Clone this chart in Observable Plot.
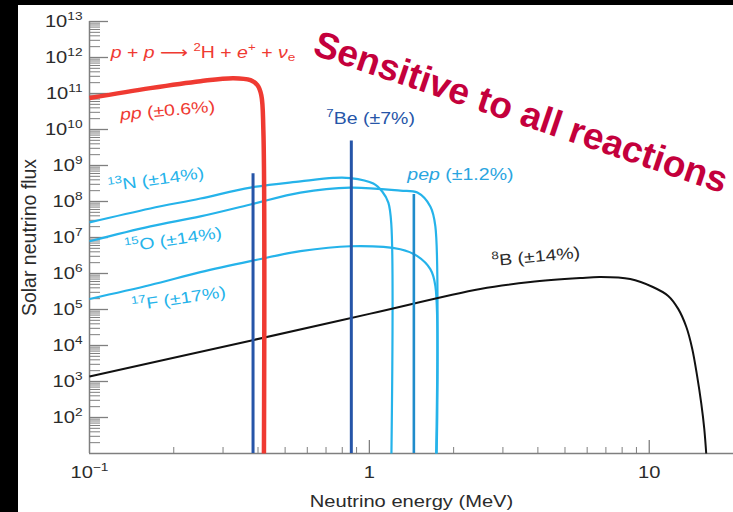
<!DOCTYPE html>
<html><head><meta charset="utf-8">
<script src="https://cdn.jsdelivr.net/npm/d3@7"></script>
<script src="https://cdn.jsdelivr.net/npm/@observablehq/plot@0.6"></script>
<style>
html,body{margin:0;padding:0;background:#000;width:733px;height:512px;overflow:hidden}
#panel{position:absolute;left:18px;top:5px;width:715px;height:507px;background:#fff}
#panel svg{display:block}
</style></head><body><div id="panel"></div>
<script>
// ---------- data (energy in MeV, flux in solar neutrino flux units) ----------
const ppE     = [0.1, 0.165, 0.249, 0.327, 0.376, 0.398, 0.411, 0.418, 0.42];
const ppFlux  = [7.46e10, 1.41e11, 2.20e11, 2.66e11, 2.34e11, 1.71e11, 9.0e10, 9.8e9, 10];

const n13E    = [0.1, 0.165, 0.249, 0.376, 0.567, 0.743, 0.855, 1.033, 1.113, 1.169, 1.198, 1.199];
const n13Flux = [2.63e7, 6.41e7, 1.21e8, 2.44e8, 3.63e8, 4.52e8, 4.47e8, 3.16e8, 1.86e8, 9.3e7, 2.3e7, 10];

const o15E    = [0.1, 0.165, 0.249, 0.376, 0.567, 0.855, 1.29, 1.484, 1.651, 1.721, 1.732];
const o15Flux = [7.85e6, 2.04e7, 3.85e7, 8.26e7, 1.77e8, 2.44e8, 2.01e8, 1.77e8, 7.3e7, 2.04e7, 10];

const f17E    = [0.1, 0.165, 0.249, 0.376, 0.567, 0.855, 1.29, 1.484, 1.651, 1.721, 1.74];
const f17Flux = [1.96e5, 4.79e5, 1.09e6, 2.20e6, 4.16e6, 5.71e6, 4.72e6, 3.03e6, 1.32e6, 4.5e5, 10];

const b8E     = [0.1, 0.376, 1.0, 2.49, 3.76, 5.67, 6.68, 8.55, 10.3, 11.69, 12.69, 13.56, 14.24, 14.84, 15.34, 15.72, 15.98];
const b8Flux  = [1.37e3, 1.36e4, 7.55e4, 3.71e5, 5.78e5, 7.46e5, 7.96e5, 7.0e5, 4.21e5, 2.38e5, 1.04e5, 3.31e4, 8.17e3, 1.37e3, 247, 50, 10];

// mono-energetic lines
const be7LineE    = [0.384, 0.862];
const be7LineFlux = [5.9e8, 4.8e9];
const pepLineE    = [1.442];
const pepLineFlux = [1.56e8];

// labels
const labelKeys  = ["reaction", "pp", "be7", "n13", "o15", "f17", "pep", "b8"];
const labelTexts = [
  "<i>p</i> + <i>p</i> <f>⟶</f> <sup>2</sup>H + <i>e</i><sup>+</sup> + <i>ν</i><sub>e</sub>",
  "<i>pp</i> (±0.6%)", "<sup>7</sup>Be (±7%)", "<sup>13</sup>N (±14%)",
  "<sup>15</sup>O (±14%)", "<sup>17</sup>F (±17%)", "<i>pep</i> (±1.2%)", "<sup>8</sup>B (±14%)"
];
const labelE    = [0.119, 0.129, 0.702, 0.117, 0.1345, 0.1425, 1.367, 2.75];
const labelFlux = [1.0e12, 1.84e10, 1.43e10, 1.89e8, 3.9e6, 9.1e4, 4.06e8, 1.6e6];

const noteText = ["Sensitive to all reactions"];
const noteE = [0.621];
const noteFlux = [1.24e12];

// axes
const xTicks = [0.1, 1, 10];
const yTicks = [1e2, 1e3, 1e4, 1e5, 1e6, 1e7, 1e8, 1e9, 1e10, 1e11, 1e12, 1e13];
const xTitle = "Neutrino energy (MeV)";
const yTitle = "Solar neutrino flux";

// ---------- styles ----------
const RED = "#ef3a32", DARKBLUE = "#2655a8", CYAN = "#25b3ea", PEPBLUE = "#1f8ccb", CRIMSON = "#c4003c";
const labelStyle = {
  reaction: {color: RED, rotate: 0},
  pp:  {color: RED, rotate: -5},
  be7: {color: DARKBLUE, rotate: 0},
  n13: {color: CYAN, rotate: -8},
  o15: {color: CYAN, rotate: -8.5},
  f17: {color: CYAN, rotate: -8.5},
  pep: {color: "#2aa5df", rotate: 0},
  b8:  {color: "#2b2b2b", rotate: -5.5}
};

const W = 715, H = 507, ML = 71, MR = 0, MT = 16, MB = 59;
const PW = W - ML - MR, PH = H - MT - MB;

const toRows = (E, F) => E.map((e, i) => ({E: e, flux: F[i]}));
const labels = labelKeys.map((k, i) => ({key: k, text: labelTexts[i], E: labelE[i], flux: labelFlux[i]}));
const notes = noteText.map((t, i) => ({text: t, E: noteE[i], flux: noteFlux[i]}));

const yMinor = [];
for (let p = 1; p <= 12; p++) for (let m = 2; m <= 9; m++) yMinor.push(m * 10 ** p);
const xMinor = [];
for (const p of [-1, 0]) for (let m = 2; m <= 9; m++) xMinor.push(m * 10 ** p);

const supFmt = d => {
  const n = Math.round(Math.log10(d));
  return "10<sup>" + (n < 0 ? "−" + (-n) : n) + "</sup>";
};

const AX = "#7f7f7f";
const lineOpts = {x: "E", y: "flux", curve: "catmull-rom", strokeLinecap: "butt", strokeLinejoin: "round"};

const chart = Plot.plot({
  width: W, height: H,
  marginLeft: ML, marginRight: MR, marginTop: MT, marginBottom: MB,
  style: {fontFamily: "'Liberation Sans', Arial, sans-serif", background: "white", color: "#2b2b2b"},
  x: {type: "log", domain: [0.1, 20]},
  y: {type: "log", domain: [10, 1e13]},
  marks: [
    // axis lines and ticks
    Plot.ruleY([10], {stroke: AX, strokeWidth: 1.5}),
    Plot.ruleX([0.1], {y1: 10, y2: 1e13, stroke: AX, strokeWidth: 1.5}),
    Plot.tickY(yMinor, {y: d => d, insetRight: PW - 11, stroke: AX, strokeWidth: 1}),
    Plot.tickY(yTicks, {y: d => d, insetRight: PW - 19, stroke: AX, strokeWidth: 1.3}),
    Plot.tickX(xMinor, {x: d => d, insetTop: PH - 6, stroke: AX, strokeWidth: 1}),
    Plot.tickX([1, 10], {x: d => d, insetTop: PH - 13, stroke: AX, strokeWidth: 1.3}),
    Plot.axisY(yTicks, {anchor: "left", tickSize: 0, tickPadding: 7, fontSize: 16.5, tickFormat: supFmt, label: null}),
    Plot.axisX(xTicks, {anchor: "bottom", tickSize: 0, tickPadding: 12.5, fontSize: 16.5,
      tickFormat: d => d === 0.1 ? supFmt(d) : String(d), label: null}),
    Plot.text([xTitle], {frameAnchor: "bottom", textAnchor: "middle", lineAnchor: "bottom", dy: 53, fontSize: 16.5}),
    Plot.text([yTitle], {frameAnchor: "left", textAnchor: "middle", lineAnchor: "bottom", rotate: -90, dx: -54, fontSize: 19.5}),

    // continuous spectra
    Plot.line(toRows(f17E, f17Flux), {...lineOpts, stroke: CYAN, strokeWidth: 2.2}),
    Plot.line(toRows(o15E, o15Flux), {...lineOpts, stroke: CYAN, strokeWidth: 2.2}),
    Plot.line(toRows(n13E, n13Flux), {...lineOpts, stroke: CYAN, strokeWidth: 2.2}),
    Plot.line(toRows(b8E, b8Flux), {...lineOpts, stroke: "#111", strokeWidth: 2}),
    // lines
    Plot.ruleX(toRows(pepLineE, pepLineFlux), {x: "E", y1: 10, y2: "flux", stroke: PEPBLUE, strokeWidth: 2.6}),
    Plot.ruleX(toRows(be7LineE, be7LineFlux), {x: "E", y1: 10, y2: "flux", stroke: DARKBLUE, strokeWidth: 3}),
    Plot.line(toRows(ppE, ppFlux), {...lineOpts, stroke: RED, strokeWidth: 4.5}),

    // labels
    Plot.text(labels, {x: "E", y: "flux", text: "text", textAnchor: "start", lineAnchor: "bottom",
      fill: d => labelStyle[d.key].color, rotate: d => labelStyle[d.key].rotate, fontSize: 16}),
    Plot.text(notes, {x: "E", y: "flux", text: "text", textAnchor: "start", lineAnchor: "bottom",
      rotate: 18.7, fontSize: 37, fontWeight: "bold", fill: CRIMSON})
  ]
});

// ---- rich text (superscripts, subscripts, italics) + horizontal stretch of the original lettering ----
const NS = "http://www.w3.org/2000/svg";
chart.querySelectorAll("text").forEach(t => {
  const s = t.textContent;
  if (s.includes("<")) {
    while (t.firstChild) t.removeChild(t.firstChild);
    const re = /<(sup|sub|i|f)>(.*?)<\/\1>|([^<]+)/g;
    let m, shift = 0;
    while ((m = re.exec(s))) {
      const ts = document.createElementNS(NS, "tspan");
      let target = 0, size = 1;
      if (m[1] === "sup") { target = 0.42; size = 0.68; }
      else if (m[1] === "sub") { target = -0.22; size = 0.7; }
      const delta = target - shift;
      if (size !== 1) ts.setAttribute("font-size", size + "em");
      if (delta !== 0) ts.setAttribute("dy", (-delta / size).toFixed(3) + "em");
      if (m[1] === "i") ts.setAttribute("font-style", "italic");
      if (m[1] === "f") ts.setAttribute("font-family", "'DejaVu Sans', sans-serif");
      ts.textContent = m[2] !== undefined ? m[2] : m[3];
      t.appendChild(ts);
      shift = target;
    }
  }
  if (!s.startsWith("Sensitive") && !s.startsWith("Solar")) {
    const tr = t.getAttribute("transform") || "";
    t.setAttribute("transform", tr + " scale(1.22,1)");
  }
});

document.getElementById("panel").appendChild(chart);
</script></body></html>
